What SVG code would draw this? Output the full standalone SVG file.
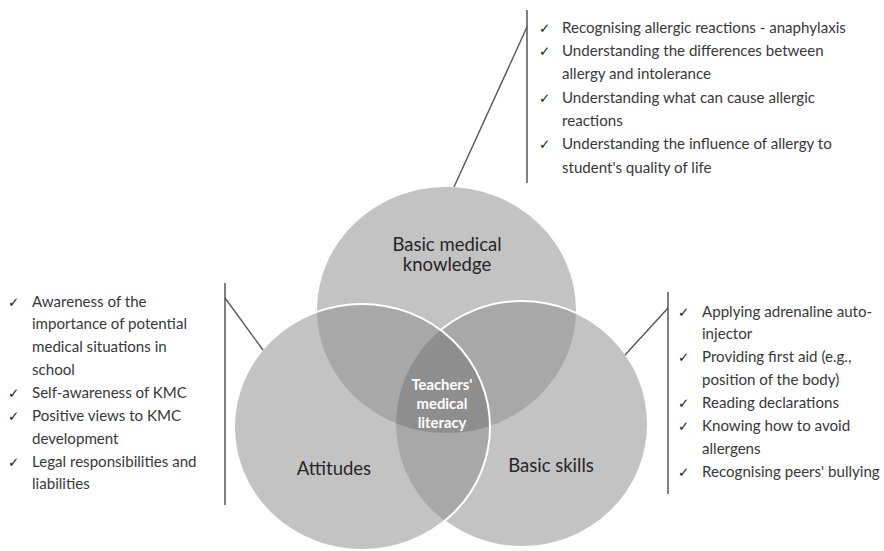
<svg xmlns="http://www.w3.org/2000/svg" width="884" height="551" viewBox="0 0 884 551">
<style>
.lbl{font-family:Lato,"Open Sans",sans-serif;font-size:18.5px;fill:#262626;text-anchor:middle}
.ctr{font-family:Lato,"Open Sans",sans-serif;font-size:14.8px;font-weight:bold;fill:#ffffff;text-anchor:middle}
.li{font-family:Lato,"Open Sans",sans-serif;font-size:15.1px;fill:#383838}
.ck{font-family:"DejaVu Sans",sans-serif;font-size:13.5px;fill:#262626}
.bar{stroke:#808080;stroke-width:2;fill:none}
.con{stroke:#555555;stroke-width:1.4;fill:none}
.base{fill:#c3c3c3}
.pair{fill:#a8a8a8}
.tri{fill:#8e8e8e}
</style>
<defs>
<clipPath id="cT"><ellipse cx="446.5" cy="310" rx="129.5" ry="123"/></clipPath>
<clipPath id="cL"><ellipse cx="362" cy="427" rx="128" ry="123"/></clipPath>
<mask id="notL"><rect x="0" y="0" width="884" height="551" fill="#fff"/><ellipse cx="362" cy="427" rx="128" ry="123" fill="#000"/></mask>
</defs>
<g id="circles">
<g id="node-knowledge"><ellipse class="base" cx="446.5" cy="310" rx="129.5" ry="123"/></g>
<g id="node-skills"><ellipse class="base" cx="522" cy="424" rx="126" ry="123"/></g>
<g id="node-attitudes"><ellipse class="base" cx="362" cy="427" rx="128" ry="123"/></g>
<g clip-path="url(#cT)"><ellipse class="pair" cx="362" cy="427" rx="128" ry="123"/><ellipse class="pair" cx="522" cy="424" rx="126" ry="123"/></g>
<g clip-path="url(#cL)"><ellipse class="pair" cx="522" cy="424" rx="126" ry="123"/></g>
<g id="node-center" clip-path="url(#cT)"><g clip-path="url(#cL)"><ellipse class="tri" cx="522" cy="424" rx="126" ry="123"/></g></g>
<ellipse cx="522" cy="424" rx="126" ry="123" fill="none" stroke="#ffffff" stroke-width="2" mask="url(#notL)"/>
<ellipse cx="362" cy="427" rx="128" ry="123" fill="none" stroke="#ffffff" stroke-width="2"/>
</g>
<g id="labels">
<text class="lbl" x="447" y="251">Basic medical</text>
<text class="lbl" x="447" y="271">knowledge</text>
<text class="lbl" x="334" y="475">Attitudes</text>
<text class="lbl" x="551" y="472">Basic skills</text>
<text class="ctr" x="442" y="390">Teachers'</text>
<text class="ctr" x="442" y="409">medical</text>
<text class="ctr" x="442" y="428">literacy</text>
</g>
<g id="connectors">
<line class="bar" x1="527" y1="10" x2="527" y2="183"/>
<line class="con" x1="454" y1="187" x2="527" y2="27"/>
<line class="bar" x1="225" y1="283" x2="225" y2="505"/>
<line class="con" x1="225" y1="298" x2="263" y2="350"/>
<line class="bar" x1="668" y1="292" x2="668" y2="494"/>
<line class="con" x1="668" y1="308" x2="625" y2="355"/>
</g>
<g id="list-knowledge">
<text class="ck" x="539" y="32.8">✓</text>
<text class="ck" x="539" y="56.1">✓</text>
<text class="ck" x="539" y="102.7">✓</text>
<text class="ck" x="539" y="149.3">✓</text>
<text class="li" x="562" y="32.8">Recognising allergic reactions - anaphylaxis</text>
<text class="li" x="562" y="56.1">Understanding the differences between</text>
<text class="li" x="562" y="79.4">allergy and intolerance</text>
<text class="li" x="562" y="102.7">Understanding what can cause allergic</text>
<text class="li" x="562" y="126">reactions</text>
<text class="li" x="562" y="149.3">Understanding the influence of allergy to</text>
<text class="li" x="562" y="172.6">student's quality of life</text>
</g>
<g id="list-attitudes">
<text class="ck" x="8" y="306.5">✓</text>
<text class="ck" x="8" y="397.9">✓</text>
<text class="ck" x="8" y="420.8">✓</text>
<text class="ck" x="8" y="466.5">✓</text>
<text class="li" x="32" y="306.5">Awareness of the</text>
<text class="li" x="32" y="329.4">importance of potential</text>
<text class="li" x="32" y="352.2">medical situations in</text>
<text class="li" x="32" y="375.1">school</text>
<text class="li" x="32" y="397.9">Self-awareness of KMC</text>
<text class="li" x="32" y="420.8">Positive views to KMC</text>
<text class="li" x="32" y="443.7">development</text>
<text class="li" x="32" y="466.5">Legal responsibilities and</text>
<text class="li" x="32" y="489.4">liabilities</text>
</g>
<g id="list-skills">
<text class="ck" x="678" y="316.5">✓</text>
<text class="ck" x="678" y="362.2">✓</text>
<text class="ck" x="678" y="407.9">✓</text>
<text class="ck" x="678" y="430.8">✓</text>
<text class="ck" x="678" y="476.5">✓</text>
<text class="li" x="702" y="316.5">Applying adrenaline auto-</text>
<text class="li" x="702" y="339.4">injector</text>
<text class="li" x="702" y="362.2">Providing first aid (e.g.,</text>
<text class="li" x="702" y="385.1">position of the body)</text>
<text class="li" x="702" y="407.9">Reading declarations</text>
<text class="li" x="702" y="430.8">Knowing how to avoid</text>
<text class="li" x="702" y="453.7">allergens</text>
<text class="li" x="702" y="476.5">Recognising peers' bullying</text>
</g>
</svg>
